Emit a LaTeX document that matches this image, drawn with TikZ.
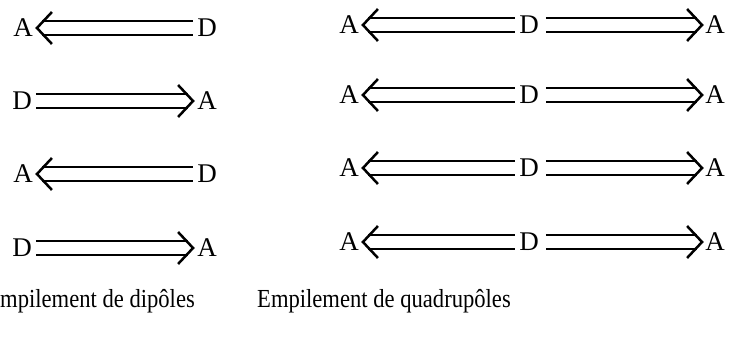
\documentclass[tikz,border=0pt]{standalone}
\usepackage{fontspec}
\setmainfont{Liberation Serif}
\newcommand{\tallcap}[1]{\scalebox{1}[1.15]{#1}}
\begin{document}
\begin{tikzpicture}[x=1pt,y=-1pt,
  lbl/.style={inner sep=0pt, font=\fontsize{27}{32}\selectfont},
  captext/.style={inner sep=0pt, font=\fontsize{22.6}{27}\selectfont},
  shaft/.style={line width=2.5pt, double distance=11.5pt, double=white},
  chev/.style={line width=2.5pt, line join=miter}]
\useasboundingbox (0,0) rectangle (733,339);
% left column: dipoles, arrows pointing left (rows 1 and 3)
\foreach \i/\y in {1/28,3/174}{
  \node[lbl] (la\i) at (23,\y) {A};
  \node[lbl] (ld\i) at (207,\y) {D};
  \coordinate (lt\i) at ([xshift=4pt]la\i.east);
  \draw[shaft] ([xshift=9pt]la\i.east) -- ([xshift=-4pt]ld\i.west);
  \draw[chev] ([xshift=15pt,yshift=16pt]lt\i) -- (lt\i) -- ([xshift=15pt,yshift=-16pt]lt\i);
}
% left column: arrows pointing right (rows 2 and 4)
\foreach \i/\y in {2/101,4/248}{
  \node[lbl] (ld\i) at (22,\y) {D};
  \node[lbl] (la\i) at (207,\y) {A};
  \coordinate (lt\i) at ([xshift=-4pt]la\i.west);
  \draw[shaft] ([xshift=4pt]ld\i.east) -- ([xshift=-9pt]la\i.west);
  \draw[chev] ([xshift=-15pt,yshift=16pt]lt\i) -- (lt\i) -- ([xshift=-15pt,yshift=-16pt]lt\i);
}
% right column: quadrupoles
\foreach \i/\y in {1/25,2/95,3/168,4/242}{
  \node[lbl] (ra\i) at (349,\y) {A};
  \node[lbl] (rd\i) at (529,\y) {D};
  \node[lbl] (rb\i) at (715,\y) {A};
  \coordinate (rt\i) at ([xshift=4pt]ra\i.east);
  \coordinate (ru\i) at ([xshift=-3pt]rb\i.west);
  \draw[shaft] ([xshift=9pt]ra\i.east) -- ([xshift=-4pt]rd\i.west);
  \draw[chev] ([xshift=15pt,yshift=16pt]rt\i) -- (rt\i) -- ([xshift=15pt,yshift=-16pt]rt\i);
  \draw[shaft] ([xshift=7pt]rd\i.east) -- ([xshift=-8pt]rb\i.west);
  \draw[chev] ([xshift=-15pt,yshift=16pt]ru\i) -- (ru\i) -- ([xshift=-15pt,yshift=-16pt]ru\i);
}
\node[captext, anchor=base east] (c1) at (195,307) {\tallcap{Empilement de dipôles}};
\node[captext, anchor=base west] (c2) at (257,307) {\tallcap{Empilement de quadrupôles}};
\end{tikzpicture}
\end{document}
